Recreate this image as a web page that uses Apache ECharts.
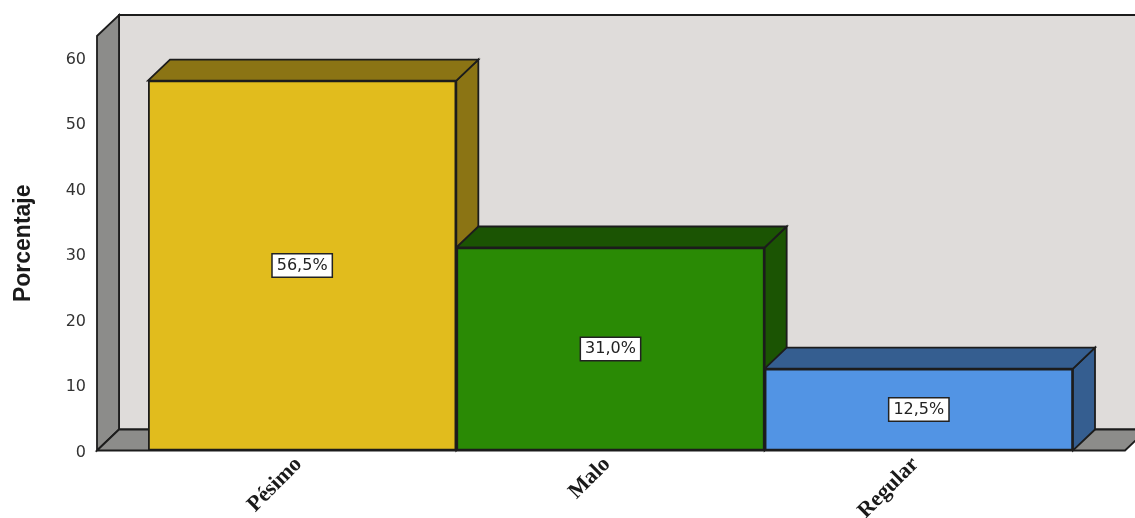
<!DOCTYPE html>
<html>
<head>
<meta charset="utf-8">
<style>html,body{margin:0;padding:0;background:#fff}#c{width:1135px;height:518px}</style>
<script src="https://cdn.jsdelivr.net/npm/echarts@6/dist/echarts.min.js"></script>
</head>
<body>
<div id="c"></div>
<script>
const categories = ['Pésimo', 'Malo', 'Regular'];
const percentages = [56.5, 31.0, 12.5];
const yTicksMax = 63.3;
const axisTitle = 'Porcentaje';

const frontColors = ['#E1BC1D', '#2A8A05', '#5294E4'];
const shadeColors = ['#8B7414', '#1B5403', '#355E90'];
const WALL = '#DFDCDA', GREY = '#8C8C8A', EDGE = '#1c1c1c';
const DX = 22, DY = 21, SIDE = 51;

const edge = {stroke: EDGE, lineWidth: 1.8};
function poly(points, fill) {
  return {type: 'polygon', shape: {points}, style: Object.assign({fill}, edge)};
}

function renderWalls(params, api) {
  const g = params.coordSys;
  const l = g.x - SIDE, r = g.x + g.width + SIDE + 1, t = g.y, b = g.y + g.height;
  return {type: 'group', children: [
    poly([[l + DX, t - DY], [r + DX, t - DY], [r + DX, b - DY], [l + DX, b - DY]], WALL),
    poly([[l, t], [l + DX, t - DY], [l + DX, b - DY], [l, b]], GREY),
    poly([[l, b], [l + DX, b - DY], [r + DX, b - DY], [r, b]], GREY)
  ]};
}

function renderDepth(params, api) {
  const i = api.value(0);
  const top = api.coord([i, api.value(1)]);
  const base = api.coord([i, 0]);
  const w = api.size([1, 0])[0];
  const x0 = top[0] - w / 2, x1 = top[0] + w / 2, y = top[1], y0 = base[1];
  return {type: 'group', children: [
    poly([[x1, y], [x1 + DX, y - DY], [x1 + DX, y0 - DY], [x1, y0]], shadeColors[i]),
    poly([[x0, y], [x0 + DX, y - DY], [x1 + DX, y - DY], [x1, y]], shadeColors[i])
  ]};
}

const chart = echarts.init(document.getElementById('c'), null, {renderer: 'canvas'});
chart.setOption({
  animation: false,
  backgroundColor: '#fff',
  grid: {left: 148, right: 62, top: 36, bottom: 67.5, outerBoundsMode: 'none'},
  xAxis: {
    type: 'category',
    data: categories,
    axisLine: {show: false},
    axisTick: {show: false},
    axisLabel: {
      rotate: 45, margin: 7, interval: 0, padding: [0, 5, 0, 0],
      fontFamily: 'Liberation Serif', fontWeight: 'bold', fontSize: 22, color: '#1a1a1a'
    }
  },
  yAxis: {
    type: 'value',
    min: 0, max: yTicksMax, interval: 10,
    name: axisTitle,
    nameLocation: 'middle',
    nameGap: 113,
    nameRotate: 90,
    nameTextStyle: {fontFamily: 'Liberation Sans', fontSize: 23, fontWeight: 'bold', color: '#1a1a1a'},
    axisLine: {show: false},
    axisTick: {show: false},
    splitLine: {show: false},
    axisLabel: {
      margin: 62, showMaxLabel: false, verticalAlign: 'top', lineHeight: 4,
      fontFamily: 'DejaVu Sans', fontSize: 16, color: '#333'
    }
  },
  series: [
    {type: 'custom', silent: true, z: 1, renderItem: renderWalls, data: [[0, 0]], encode: {x: 0, y: 1}},
    {type: 'custom', silent: true, z: 2, renderItem: renderDepth,
     data: percentages.map((v, i) => [i, v]), encode: {x: 0, y: 1}},
    {
      type: 'bar', z: 3, silent: true, barWidth: '100%',
      data: percentages.map((v, i) => ({value: v, itemStyle: {color: frontColors[i]}})),
      itemStyle: {borderColor: EDGE, borderWidth: 1.8},
      label: {
        show: true, position: 'inside',
        formatter: p => p.value.toFixed(1).replace('.', ',') + '%',
        fontFamily: 'DejaVu Sans', fontSize: 16, color: '#222',
        backgroundColor: '#fff', borderColor: '#222', borderWidth: 1.5,
        padding: [3, 4, 3, 4]
      }
    }
  ]
});
</script>
</body>
</html>
